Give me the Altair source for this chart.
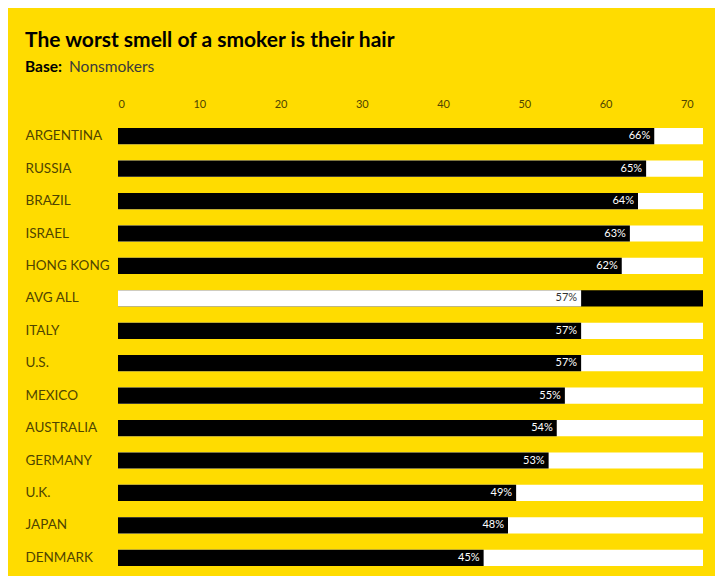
import altair as alt
import pandas as pd

countries = ["ARGENTINA", "RUSSIA", "BRAZIL", "ISRAEL", "HONG KONG", "AVG ALL", "ITALY",
             "U.S.", "MEXICO", "AUSTRALIA", "GERMANY", "U.K.", "JAPAN", "DENMARK"]
values = [66, 65, 64, 63, 62, 57, 57, 57, 55, 54, 53, 49, 48, 45]
x_ticks = [0, 10, 20, 30, 40, 50, 60, 70]
highlight = "AVG ALL"
track_max = 72

title_text = "The worst smell of a smoker is their hair"
sub_bold = "Base:"
sub_text = "Nonsmokers"

YELLOW = "#FFDC00"
LABEL = "#4F4500"

df = pd.DataFrame({"country": countries, "value": values})
df["track"] = track_max
df["label"] = df["value"].astype(str) + "%"
df["fg"] = ["#FFFFFF" if c == highlight else "#000000" for c in countries]
df["bg"] = ["#000000" if c == highlight else "#FFFFFF" for c in countries]
df["tc"] = ["#333333" if c == highlight else "#FFFFFF" for c in countries]

W, H = 585, 454
x_scale = alt.Scale(domain=[0, track_max], nice=False, zero=True)
y_enc = alt.Y(
    "country:N", sort=countries,
    scale=alt.Scale(paddingInner=0.5, paddingOuter=0.25),
    axis=alt.Axis(title=None, orient="left", labelAlign="left", labelPadding=93,
                  ticks=False, tickSize=0, domain=False, grid=False,
                  labelFont="Lato", labelFontSize=13.5, labelColor=LABEL),
)

base = alt.Chart(df)
track = base.mark_bar().encode(
    x=alt.X("track:Q", scale=x_scale,
            axis=alt.Axis(orient="top", values=x_ticks, title=None, ticks=False, tickSize=0,
                          domain=False, grid=False, labelPadding=11, labelFont="Lato",
                          labelFontSize=11, labelColor=LABEL)),
    y=y_enc,
    color=alt.Color("bg:N", scale=None),
)
bars = base.mark_bar().encode(
    x=alt.X("value:Q", scale=x_scale),
    y=y_enc,
    color=alt.Color("fg:N", scale=None),
)
labels = base.mark_text(align="right", baseline="middle", dx=-4, font="Lato", fontSize=11).encode(
    x=alt.X("value:Q", scale=x_scale),
    y=y_enc,
    text="label:N",
    color=alt.Color("tc:N", scale=None),
)

t1 = alt.Chart(pd.DataFrame({"t": [title_text]})).mark_text(
    align="left", baseline="alphabetic", font="Lato", fontSize=21, fontWeight="bold", color="#000000"
).encode(x=alt.value(-93), y=alt.value(-73), text="t:N")
t2 = alt.Chart(pd.DataFrame({"t": [sub_bold]})).mark_text(
    align="left", baseline="alphabetic", font="Lato", fontSize=15.5, fontWeight="bold", color="#000000"
).encode(x=alt.value(-93), y=alt.value(-48), text="t:N")
t3 = alt.Chart(pd.DataFrame({"t": [sub_text]})).mark_text(
    align="left", baseline="alphabetic", font="Lato", fontSize=15.5, color="#3A3A3A"
).encode(x=alt.value(-49), y=alt.value(-48), text="t:N")

chart = alt.layer(track, bars, labels, t1, t2, t3).properties(
    width=W, height=H, background=YELLOW,
    padding={"left": 110, "top": 112, "right": 12, "bottom": 2},
    autosize=alt.AutoSizeParams(type="none"),
).configure_view(strokeWidth=0)

chart.save("out.html", embed_options={"renderer": "svg", "actions": False})
